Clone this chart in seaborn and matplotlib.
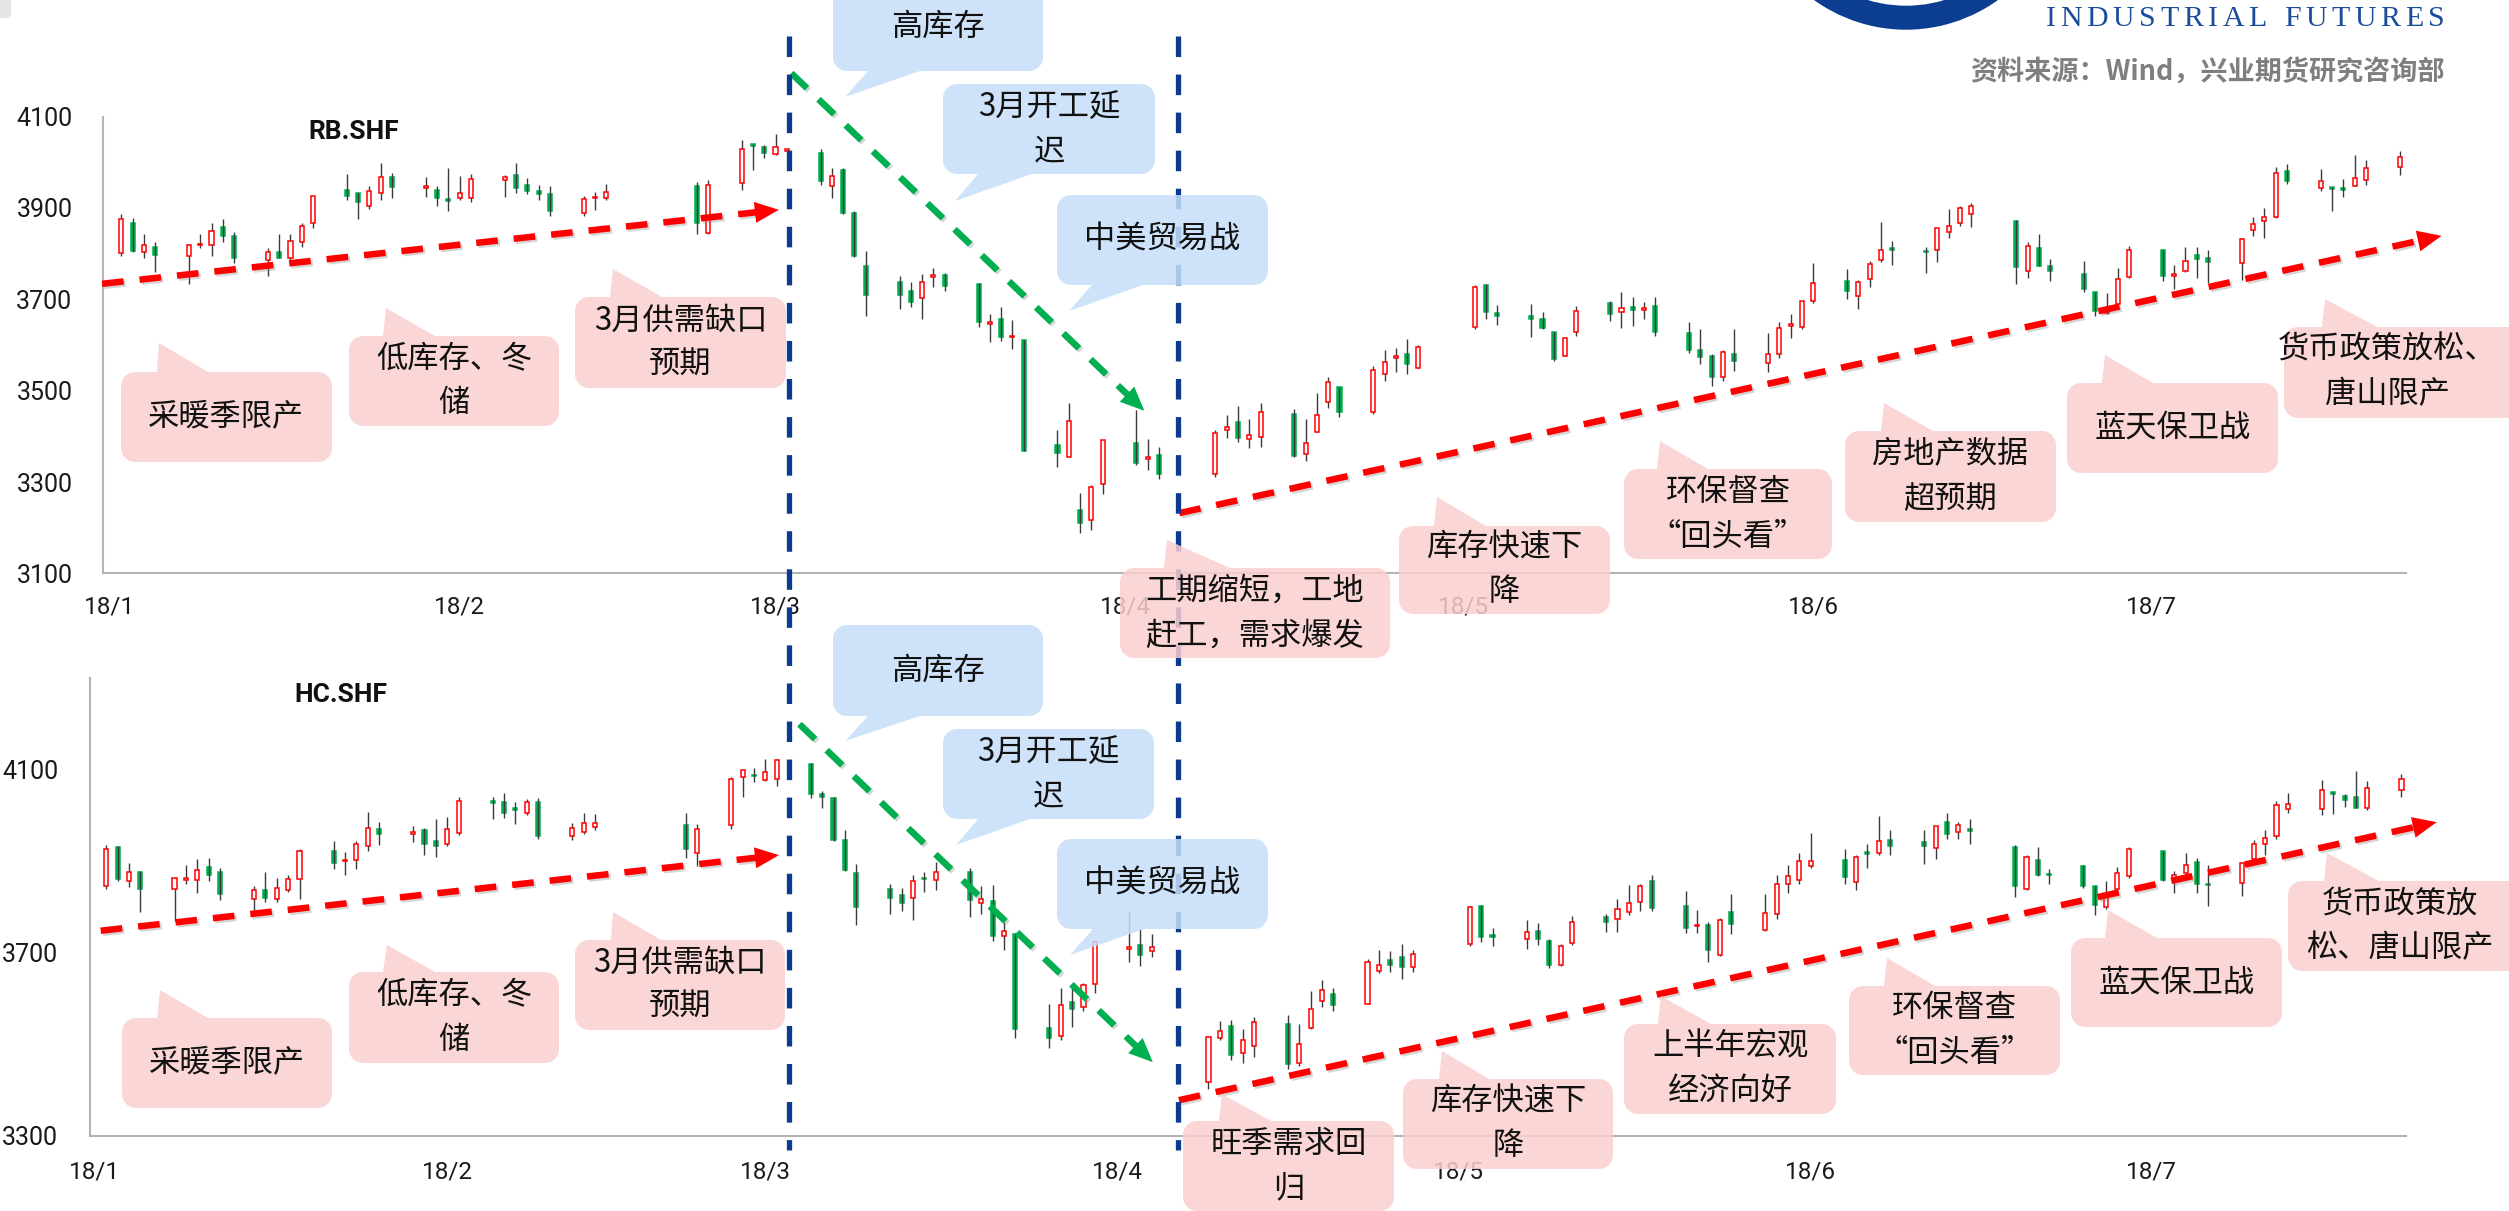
import numpy as np
import pandas as pd
import matplotlib
matplotlib.use("Agg")
import matplotlib.pyplot as plt
import matplotlib.dates as mdates
import matplotlib.patheffects as pe
from matplotlib.patches import Polygon, Wedge, FancyBboxPatch
from matplotlib.transforms import IdentityTransform
from matplotlib.textpath import TextToPath
from matplotlib.font_manager import FontProperties
import seaborn as sns

# ---------------- data ----------------
trade_holidays = ["2018-02-15", "2018-02-16", "2018-02-19", "2018-02-20", "2018-02-21",
                  "2018-04-05", "2018-04-06", "2018-04-30", "2018-05-01", "2018-06-18"]
dates = pd.bdate_range("2018-01-02", "2018-07-23", freq="C", holidays=trade_holidays)

rb_open = [3801, 3868, 3804, 3814, 3795, 3819, 3819, 3859, 3839, 3786, 3804, 3790, 3826, 3868, 3939,
           3932, 3905, 3933, 3967, 3943, 3939, 3920, 3921, 3921, 3961, 3972, 3950, 3938, 3930, 3888,
           3922, 3921, 3947, 3846, 3954, 4040, 4033, 4018, 4025, 4020, 3949, 3983, 3888, 3774, 3739,
           3718, 3702, 3749, 3753, 3733, 3646, 3656, 3617, 3610, 3380, 3354, 3239, 3217, 3296, 3386,
           3350, 3359, 3317, 3415, 3432, 3394, 3399, 3450, 3361, 3410, 3476, 3507, 3453, 3536, 3571,
           3580, 3550, 3639, 3731, 3669, 3664, 3658, 3628, 3577, 3628, 3691, 3673, 3683, 3677, 3686,
           3627, 3588, 3577, 3529, 3580, 3560, 3580, 3642, 3639, 3697, 3741, 3707, 3744, 3786, 3812,
           3806, 3808, 3848, 3866, 3886, 3872, 3761, 3813, 3774, 3755, 3715, 3669, 3690, 3748, 3808,
           3752, 3761, 3797, 3790, 3779, 3852, 3872, 3881, 3981, 3944, 3946, 3943, 3949, 3961, 3990]
rb_high = [3886, 3877, 3842, 3826, 3822, 3843, 3868, 3876, 3848, 3812, 3844, 3842, 3868, 3927, 3974,
           3932, 3948, 3998, 3976, 3968, 3947, 3988, 3970, 3974, 3972, 3998, 3965, 3950, 3947, 3926,
           3936, 3952, 3956, 3961, 4049, 4040, 4038, 4063, 4027, 4029, 3988, 3988, 3893, 3806, 3750,
           3739, 3755, 3769, 3758, 3735, 3667, 3684, 3655, 3611, 3414, 3474, 3275, 3294, 3392, 3458,
           3394, 3377, 3414, 3447, 3467, 3438, 3472, 3460, 3437, 3496, 3529, 3509, 3555, 3589, 3594,
           3613, 3600, 3731, 3733, 3688, 3690, 3672, 3629, 3618, 3686, 3696, 3715, 3704, 3695, 3704,
           3651, 3635, 3580, 3589, 3635, 3626, 3650, 3667, 3697, 3779, 3766, 3742, 3784, 3870, 3828,
           3815, 3857, 3897, 3904, 3910, 3874, 3825, 3844, 3788, 3784, 3715, 3713, 3769, 3817, 3809,
           3775, 3815, 3815, 3807, 3834, 3881, 3899, 3989, 3996, 3985, 3946, 3963, 4015, 4005, 4025]
rb_low = [3795, 3804, 3790, 3760, 3733, 3812, 3795, 3826, 3780, 3751, 3790, 3786, 3815, 3857, 3917,
          3875, 3898, 3917, 3921, 3925, 3904, 3894, 3917, 3914, 3925, 3932, 3930, 3917, 3883, 3883,
          3896, 3917, 3842, 3844, 3939, 3983, 4009, 4015, 4024, 3950, 3921, 3886, 3793, 3664, 3678,
          3684, 3658, 3728, 3719, 3639, 3606, 3609, 3591, 3369, 3334, 3354, 3188, 3195, 3274, 3337,
          3326, 3307, 3312, 3396, 3388, 3374, 3377, 3354, 3345, 3410, 3463, 3442, 3450, 3521, 3540,
          3536, 3549, 3634, 3656, 3644, 3618, 3635, 3565, 3577, 3620, 3653, 3637, 3642, 3658, 3620,
          3583, 3558, 3511, 3521, 3542, 3540, 3571, 3615, 3635, 3693, 3701, 3679, 3726, 3781, 3775,
          3757, 3782, 3835, 3861, 3858, 3734, 3747, 3772, 3741, 3715, 3664, 3667, 3688, 3746, 3740,
          3722, 3759, 3746, 3735, 3742, 3839, 3834, 3879, 3952, 3938, 3894, 3925, 3947, 3950, 3972]
rb_close = [3875, 3806, 3820, 3798, 3819, 3821, 3850, 3839, 3790, 3804, 3791, 3828, 3860, 3927, 3927,
            3912, 3938, 3968, 3945, 3947, 3921, 3916, 3932, 3963, 3968, 3944, 3937, 3930, 3894, 3920,
            3925, 3936, 3866, 3950, 4029, 4036, 4021, 4033, 4027, 3958, 3971, 3890, 3795, 3710, 3710,
            3695, 3737, 3753, 3730, 3651, 3650, 3617, 3620, 3369, 3363, 3434, 3211, 3290, 3392, 3341,
            3354, 3317, 3408, 3420, 3396, 3403, 3453, 3356, 3385, 3447, 3518, 3453, 3545, 3562, 3575,
            3558, 3595, 3728, 3673, 3664, 3657, 3637, 3569, 3616, 3675, 3668, 3682, 3677, 3680, 3629,
            3588, 3573, 3531, 3584, 3565, 3580, 3637, 3645, 3697, 3735, 3719, 3737, 3777, 3808, 3807,
            3803, 3857, 3861, 3899, 3904, 3770, 3817, 3773, 3761, 3723, 3675, 3673, 3745, 3809, 3752,
            3755, 3784, 3788, 3781, 3831, 3864, 3881, 3977, 3960, 3960, 3942, 3940, 3965, 3987, 4012]

hc_open = [3846, 3931, 3856, 3877, 3838, 3859, 3859, 3887, 3877, 3817, 3836, 3817, 3836, 3860, 3921,
           3900, 3902, 3934, 3970, 3959, 3968, 3944, 3938, 3962, 4032, 4029, 4017, 4004, 4030, 3955,
           3964, 3974, 3978, 3917, 3979, 4083, 4088, 4077, 4079, 4113, 4046, 4038, 3945, 3874, 3839,
           3825, 3819, 3863, 3859, 3877, 3808, 3812, 3737, 3741, 3536, 3519, 3592, 3581, 3632, 3708,
           3717, 3703, 3417, 3513, 3540, 3480, 3497, 3544, 3459, 3536, 3595, 3609, 3589, 3659, 3683,
           3690, 3669, 3719, 3802, 3738, 3730, 3748, 3726, 3674, 3721, 3777, 3774, 3789, 3811, 3856,
           3802, 3758, 3761, 3696, 3788, 3749, 3785, 3851, 3859, 3889, 3902, 3855, 3919, 3917, 3945,
           3941, 3928, 3985, 3964, 3971, 3930, 3840, 3902, 3872, 3889, 3846, 3800, 3840, 3868, 3921,
           3863, 3874, 3898, 3851, 3853, 3904, 3938, 3955, 4013, 4013, 4050, 4042, 4040, 4015, 4056]
hc_high = [3936, 3934, 3895, 3879, 3866, 3891, 3904, 3907, 3885, 3845, 3877, 3863, 3870, 3926, 3944,
           3919, 3943, 4008, 3985, 3977, 3972, 3992, 3996, 4040, 4040, 4049, 4028, 4036, 4038, 3983,
           4006, 4002, 4005, 3981, 4083, 4100, 4103, 4123, 4123, 4114, 4053, 4040, 3968, 3893, 3851,
           3842, 3870, 3877, 3898, 3886, 3845, 3847, 3766, 3743, 3587, 3623, 3625, 3634, 3727, 3792,
           3751, 3740, 3519, 3551, 3553, 3534, 3560, 3564, 3544, 3617, 3640, 3622, 3687, 3706, 3704,
           3719, 3706, 3802, 3805, 3753, 3772, 3764, 3730, 3719, 3781, 3785, 3817, 3847, 3851, 3869,
           3834, 3794, 3766, 3775, 3828, 3828, 3870, 3891, 3917, 3961, 3926, 3913, 3938, 3998, 3967,
           3967, 3977, 4006, 3985, 3992, 3936, 3913, 3930, 3883, 3891, 3846, 3857, 3887, 3930, 3923,
           3879, 3917, 3906, 3891, 3897, 3947, 3968, 4032, 4049, 4077, 4051, 4047, 4097, 4074, 4090]
hc_low = [3840, 3857, 3843, 3789, 3770, 3851, 3830, 3857, 3815, 3792, 3811, 3811, 3832, 3817, 3883,
          3870, 3883, 3921, 3936, 3941, 3913, 3908, 3934, 3958, 3992, 3994, 3981, 4000, 3949, 3945,
          3960, 3968, 3906, 3889, 3970, 4039, 4072, 4074, 4064, 4038, 4015, 3943, 3879, 3760, 3785,
          3791, 3772, 3832, 3836, 3779, 3785, 3726, 3706, 3513, 3491, 3509, 3538, 3572, 3611, 3679,
          3670, 3691, 3402, 3510, 3466, 3459, 3473, 3445, 3453, 3534, 3581, 3572, 3588, 3656, 3657,
          3643, 3657, 3715, 3723, 3714, 3707, 3717, 3666, 3670, 3717, 3745, 3745, 3783, 3792, 3792,
          3743, 3743, 3679, 3693, 3741, 3748, 3774, 3830, 3851, 3886, 3851, 3836, 3885, 3913, 3914,
          3893, 3904, 3949, 3949, 3938, 3822, 3836, 3868, 3849, 3842, 3783, 3795, 3836, 3864, 3856,
          3830, 3866, 3830, 3802, 3823, 3902, 3913, 3949, 4006, 4000, 4002, 4019, 4015, 4011, 4040]
hc_close = [3927, 3861, 3877, 3840, 3863, 3863, 3880, 3870, 3829, 3836, 3819, 3842, 3860, 3923, 3896,
            3903, 3938, 3972, 3960, 3963, 3937, 3932, 3971, 4032, 4026, 4006, 4011, 4028, 3955, 3972,
            3983, 3983, 3926, 3971, 4080, 4098, 4085, 4094, 4120, 4046, 4040, 3945, 3881, 3800, 3819,
            3808, 3856, 3860, 3876, 3815, 3817, 3737, 3747, 3534, 3513, 3585, 3577, 3630, 3724, 3713,
            3696, 3713, 3515, 3530, 3476, 3510, 3549, 3456, 3500, 3577, 3619, 3585, 3679, 3674, 3674,
            3669, 3698, 3800, 3734, 3734, 3745, 3731, 3673, 3715, 3766, 3768, 3795, 3809, 3846, 3798,
            3754, 3761, 3706, 3772, 3762, 3787, 3851, 3868, 3900, 3900, 3866, 3908, 3915, 3943, 3934,
            3934, 3977, 3960, 3978, 3966, 3845, 3908, 3870, 3869, 3846, 3804, 3829, 3874, 3926, 3859,
            3869, 3891, 3849, 3848, 3896, 3937, 3951, 4023, 4025, 4055, 4046, 4034, 4017, 4060, 4080]

month_ticks = ["2018-01-01", "2018-02-01", "2018-03-01", "2018-04-01",
               "2018-05-01", "2018-06-01", "2018-07-01"]
month_labels = ["18/1", "18/2", "18/3", "18/4", "18/5", "18/6", "18/7"]
rb_yticks = [3100, 3300, 3500, 3700, 3900, 4100]
hc_yticks = [3300, 3700, 4100]

# ---------------- style ----------------
sns.set_theme(style="white")
CJK = ["Noto Sans CJK SC", "DejaVu Sans"]
NUM = ["Roboto", "DejaVu Sans"]
plt.rcParams["font.family"] = CJK
plt.rcParams["lines.scale_dashes"] = False

RED = "#FF0000"
GREEN = "#00B050"
WICK = "#3A3A3A"
NAVY = "#0B3A8F"
PINK = "#FBCFCF"
BLUE = "#C6DFF9"
BOX_ALPHA = 0.85

W, H = 2509, 1211
fig = plt.figure(figsize=(W / 100, H / 100), dpi=100)
fig.patch.set_facecolor("white")

x = mdates.date2num(dates.to_pydatetime())
jan1 = mdates.date2num(pd.Timestamp("2018-01-01").to_pydatetime())


def px_axes(left, top, right, bottom):
    return fig.add_axes([left / W, 1 - bottom / H, (right - left) / W, (bottom - top) / H])


ax_rb = px_axes(103, 116.6, 2406, 573.4)
ax_hc = px_axes(90, 677.9, 2406, 1135.9)


def draw_candles(ax, o, h, l, c):
    o, h, l, c = map(np.asarray, (o, h, l, c))
    up = c >= o
    dn = ~up
    bw = 0.36
    body = np.maximum(np.abs(c - o), 3)
    lowb = np.minimum(o, c)
    ax.vlines(x[up], l[up], h[up], color=WICK, lw=1.0, zorder=2)
    ax.bar(x[up], body[up], bottom=lowb[up], width=bw, color="white",
           edgecolor=RED, linewidth=1.1, zorder=3)
    ax.bar(x[dn], body[dn], bottom=lowb[dn], width=bw, color=GREEN,
           edgecolor=GREEN, linewidth=1.1, zorder=2.5)
    ax.vlines(x[dn], l[dn], h[dn], color=WICK, lw=1.0, zorder=3.5)


def style_axes(ax, yticks, ylim, xlim, ypad, xpad):
    ax.set_xlim(*xlim)
    ax.set_ylim(*ylim)
    ax.set_yticks(yticks)
    ax.set_yticklabels([str(v) for v in yticks], fontfamily=NUM, fontsize=18, color="#1a1a1a")
    ax.set_xticks(mdates.date2num(pd.to_datetime(month_ticks).to_pydatetime()))
    ax.set_xticklabels(month_labels, fontfamily=NUM, fontsize=17.5, color="#1a1a1a")
    ax.tick_params(axis="y", length=0, pad=ypad)
    ax.tick_params(axis="x", length=0, pad=xpad)
    sns.despine(ax=ax)
    for s in ("left", "bottom"):
        ax.spines[s].set_color("#B4B4B4")
        ax.spines[s].set_linewidth(1.5)
    ax.set_facecolor("none")
    ax.grid(False)


draw_candles(ax_rb, rb_open, rb_high, rb_low, rb_close)
draw_candles(ax_hc, hc_open, hc_high, hc_low, hc_close)
style_axes(ax_rb, rb_yticks, (3100, 4100), (jan1 - 0.62, jan1 + 203.55), 22, 16)
style_axes(ax_hc, hc_yticks, (3300, 4300), (jan1 - 0.44, jan1 + 203.4), 23, 18)

shadow = [pe.SimpleLineShadow(offset=(1.5, -1.5), shadow_color="#888888", alpha=0.35), pe.Normal()]


def trend(ax, d0, v0, d1, v1, color):
    p0 = ax.transData.transform((jan1 + d0, v0))
    p1 = ax.transData.transform((jan1 + d1, v1))
    u = (p1 - p0) / np.hypot(*(p1 - p0))
    n = np.array([-u[1], u[0]])
    hl, hw = 24, 21
    base = p1 - u * hl
    tri = [p1, base + n * hw / 2, base - n * hw / 2]
    fig.add_artist(Polygon(tri, closed=True, transform=IdentityTransform(),
                           fc=color, ec="none", zorder=5))
    b = ax.transData.inverted().transform(base + u * 2)
    ax.plot([jan1 + d0, b[0]], [v0, b[1]], color=color, lw=4.7, dashes=(15.6, 11.5),
            dash_capstyle="butt", clip_on=False, zorder=6, path_effects=shadow)


trend(ax_rb, -0.7, 3734, 59.3, 3896, RED)
trend(ax_rb, 60.4, 4195, 91.7, 3456, GREEN)
trend(ax_rb, 94.8, 3232, 206.7, 3839, RED)
trend(ax_hc, 0.5, 3748, 60.2, 3913, RED)
trend(ax_hc, 62.0, 4199, 93.1, 3461, GREEN)
trend(ax_hc, 95.4, 3378, 206.1, 3985, RED)

# ---------------- overlay (pixel coordinates) ----------------
ov = fig.add_axes([0, 0, 1, 1], zorder=10)
ov.set_xlim(0, W)
ov.set_ylim(H, 0)
ov.axis("off")

for xv in (788.5, 1177.7):
    ov.plot([xv, xv], [35.6, 1150], color=NAVY, lw=3.8, dashes=(14.8, 12.6),
            dash_capstyle="butt", zorder=1)


def callout_path(x0, y0, x1, y1, r, tail):
    side, bx0, apx, apy, bx1 = tail
    pts = [(x0 + r, y0)]
    if side == "top":
        pts += [(bx0, y0), (apx, apy), (bx1, y0)]
    pts.append((x1 - r, y0))
    def arc(cx, cy, a0, a1):
        t = np.radians(np.linspace(a0, a1, 12))
        return list(zip(cx + r * np.cos(t), cy + r * np.sin(t)))
    pts += arc(x1 - r, y0 + r, -90, 0)
    pts += arc(x1 - r, y1 - r, 0, 90)
    if side == "bottom":
        pts += [(bx1, y1), (apx, apy), (bx0, y1)]
    pts += arc(x0 + r, y1 - r, 90, 180)
    pts += arc(x0 + r, y0 + r, 180, 270)
    return pts


def callout(text, kind, box, tail, center=None):
    fc = PINK if kind == "p" else BLUE
    pts = callout_path(*box, 14, tail)
    ov.add_patch(Polygon(pts, closed=True, fc=fc, ec="none", alpha=BOX_ALPHA, zorder=3))
    if center is None:
        center = ((box[0] + box[2]) / 2, (box[1] + box[3]) / 2)
    ov.text(center[0], center[1], text, ha="center", va="center", fontsize=22.5,
            family=CJK, color="#111111", linespacing=1.5, zorder=4)


callouts = [
    ("采暖季限产", "p", (121, 372, 332, 462), ("top", 157, 159, 343, 208)),
    ("低库存、冬\n储", "p", (349, 336, 559, 426), ("top", 383, 386, 308, 435)),
    ("3月供需缺口\n预期", "p", (575, 297, 786, 388), ("top", 610, 613, 269, 662)),
    ("高库存", "b", (833, -20, 1043, 71), ("bottom", 868, 845, 97, 920), (938, 27)),
    ("3月开工延\n迟", "b", (943, 84, 1155, 174), ("bottom", 978, 955, 201, 1032)),
    ("中美贸易战", "b", (1057, 195, 1268, 285), ("bottom", 1092, 1069, 311, 1143)),
    ("工期缩短，工地\n赶工，需求爆发", "p", (1120, 568, 1390, 658), ("top", 1164, 1167, 540, 1230)),
    ("库存快速下\n降", "p", (1399, 526, 1610, 614), ("top", 1434, 1437, 497, 1486)),
    ("环保督查\n“回头看”", "p", (1624, 469, 1832, 559), ("top", 1657, 1660, 441, 1708)),
    ("房地产数据\n超预期", "p", (1845, 431, 2056, 522), ("top", 1881, 1884, 403, 1933)),
    ("蓝天保卫战", "p", (2067, 383, 2278, 473), ("top", 2102, 2105, 355, 2153)),
    ("货币政策放松、\n唐山限产", "p", (2284, 327, 2530, 418), ("top", 2322, 2325, 299, 2377), (2387, 372)),
    ("采暖季限产", "p", (122, 1018, 332, 1108), ("top", 157, 160, 990, 208)),
    ("低库存、冬\n储", "p", (349, 972, 559, 1063), ("top", 383, 387, 945, 435)),
    ("3月供需缺口\n预期", "p", (575, 940, 785, 1030), ("top", 611, 613, 912, 661)),
    ("高库存", "b", (833, 625, 1043, 716), ("bottom", 868, 845, 741, 920)),
    ("3月开工延\n迟", "b", (943, 729, 1154, 819), ("bottom", 978, 956, 845, 1030)),
    ("中美贸易战", "b", (1057, 839, 1268, 929), ("bottom", 1093, 1070, 955, 1144)),
    ("旺季需求回\n归", "p", (1183, 1121, 1394, 1211), ("top", 1219, 1222, 1094, 1271)),
    ("库存快速下\n降", "p", (1403, 1079, 1613, 1169), ("top", 1439, 1442, 1051, 1489)),
    ("上半年宏观\n经济向好", "p", (1624, 1024, 1836, 1114), ("top", 1658, 1661, 996, 1711)),
    ("环保督查\n“回头看”", "p", (1849, 986, 2060, 1075), ("top", 1884, 1887, 958, 1935)),
    ("蓝天保卫战", "p", (2071, 938, 2282, 1027), ("top", 2105, 2108, 910, 2157)),
    ("货币政策放\n松、唐山限产", "p", (2288, 881, 2530, 971), ("top", 2324, 2327, 853, 2379), (2400, 926)),
]
for c in callouts:
    callout(*c)

# panel titles
ov.text(353.5, 132, "RB.SHF", ha="center", va="center", fontsize=19, fontweight="bold",
        family=NUM, color="#111111")
ov.text(341, 695, "HC.SHF", ha="center", va="center", fontsize=19, fontweight="bold",
        family=NUM, color="#111111")

# header: logo arc, company name, source
ov.add_patch(Wedge((1906, -127.6), 157.3, 0, 180, width=24, fc="#0B3D91", ec="none", zorder=2))
ov.add_patch(FancyBboxPatch((-10, -10), 21, 28, boxstyle="round,pad=0,rounding_size=5",
                            fc="#E6E6E6", ec="none", zorder=2))

name = "INDUSTRIAL FUTURES"
fp = FontProperties(family="Liberation Serif", size=21.5)
ttp = TextToPath()
widths = []
for ch in name:
    if ch == " ":
        widths.append(0.25 * 21.5 * 100 / 72)
    else:
        widths.append(ttp.get_text_width_height_descent(ch, fp, ismath=False)[0] * 100 / 72)
x_left, x_right = 2045.6, 2444.5
gap = (x_right - x_left - sum(widths)) / (len(name) - 1)
cx = x_left
for ch, wch in zip(name, widths):
    if ch != " ":
        ov.text(cx, 19, ch, ha="left", va="center", fontproperties=fp, color="#1B4B9B", zorder=2)
    cx += wch + gap

ov.text(2444.5, 73, "资料来源：Wind，兴业期货研究咨询部", ha="right", va="center",
        fontsize=19.5, fontweight="bold", family=CJK, color="#7F7F7F", zorder=2)

fig.savefig("out.png", dpi=100, facecolor="white")
